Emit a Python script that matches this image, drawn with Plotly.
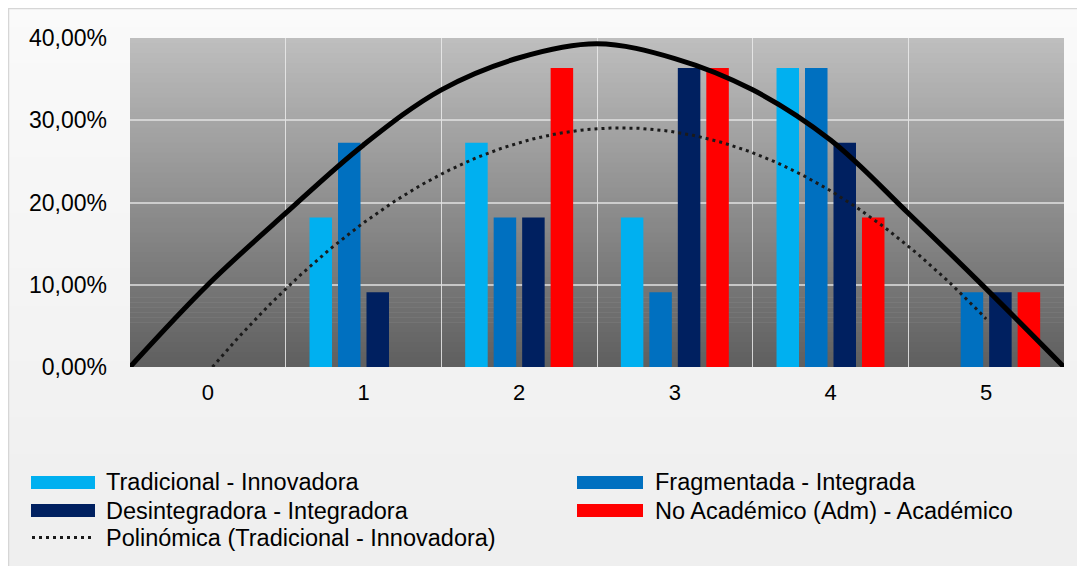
import numpy as np
import plotly.graph_objects as go

# ---------------- data ----------------
categories = [0, 1, 2, 3, 4, 5]
category_labels = ["0", "1", "2", "3", "4", "5"]

series_names = [
    "Tradicional - Innovadora",
    "Fragmentada - Integrada",
    "Desintegradora - Integradora",
    "No Académico (Adm) - Académico",
]
tradicional = [0.0, 0.1818, 0.2727, 0.1818, 0.3636, 0.0]
fragmentada = [0.0, 0.2727, 0.1818, 0.0909, 0.3636, 0.0909]
desintegradora = [0.0, 0.0909, 0.1818, 0.3636, 0.2727, 0.0909]
no_academico = [0.0, 0.0, 0.3636, 0.3636, 0.1818, 0.0909]
series_values = [tradicional, fragmentada, desintegradora, no_academico]
series_colors = ["#00B0F0", "#0070C0", "#002060", "#FF0000"]

trend_name = "Polinómica (Tradicional - Innovadora)"

# hand-drawn bell arc (category position, value)
arc_x = [-0.5, 0, 0.5, 1, 1.5, 2, 2.5, 3, 3.5, 4, 4.5, 5, 5.5]
arc_y = [0.0, 0.10, 0.187, 0.27, 0.337, 0.376, 0.393, 0.375, 0.337, 0.276, 0.187, 0.095, 0.0]

y_ticks = [0, 0.1, 0.2, 0.3, 0.4]

# ---------------- layout geometry (page pixels; the page body has an 8px margin) ----------------
OFF = 8
W, H = 1085 - OFF, 566 - OFF
PL, PR, PT, PB = 130, 1064, 38, 367   # plot area in page px
L, R, T, B = PL - OFF, 1085 - PR, PT - OFF, 566 - PB
PW = PR - PL
PH = PB - PT
FONT = "Liberation Sans, Arial, sans-serif"
TXT = "#000000"


def px2x(px):
    return (px - PL) / PW


def py2y(py):
    return (PB - py) / PH


fig = go.Figure()

for name, vals, col in zip(series_names, series_values, series_colors):
    fig.add_trace(go.Bar(x=categories, y=vals, name=name, marker_color=col,
                         marker_line_width=0, showlegend=False))

# polynomial (order 2) trendline of the first series
coef = np.polyfit(categories, tradicional, 2)
tx = np.linspace(categories[0], categories[-1], 200)
fig.add_trace(go.Scatter(x=tx, y=np.polyval(coef, tx), mode="lines", name=trend_name,
                         line=dict(color="#1a1a1a", width=3, dash="3px,4px"),
                         showlegend=False))

fig.add_trace(go.Scatter(x=arc_x, y=arc_y, mode="lines",
                         line=dict(color="black", width=5, shape="spline", smoothing=1.0),
                         showlegend=False, hoverinfo="skip"))

shapes = []
# outer panel soft gradient
nb = 30
top_c, bot_c = np.array([250, 250, 250]), np.array([239, 239, 239])
y_top, y_bot = OFF, 566
for i in range(nb):
    a = i / (nb - 1)
    c = (top_c * (1 - a) + bot_c * a).astype(int)
    p0 = y_top + (y_bot - y_top) * i / nb
    p1 = min(y_top + (y_bot - y_top) * (i + 1) / nb + 1, 566)
    shapes.append(dict(type="rect", xref="paper", yref="paper", layer="below",
                       x0=px2x(OFF), x1=px2x(1086), y0=py2y(p1), y1=py2y(p0),
                       fillcolor=f"rgb({c[0]},{c[1]},{c[2]})", line_width=0))
shapes.append(dict(type="rect", xref="paper", yref="paper", layer="below",
                   x0=px2x(OFF + 0.5), x1=px2x(1092), y0=py2y(572), y1=py2y(OFF + 0.5),
                   fillcolor="rgba(0,0,0,0)", line=dict(color="#d6d6d6", width=1.5)))

# plot area vertical gradient
nb = 66
top_c, bot_c = np.array([190, 190, 190]), np.array([96, 96, 96])
for i in range(nb):
    a = i / (nb - 1)
    c = (top_c * (1 - a) + bot_c * a).astype(int)
    shapes.append(dict(type="rect", xref="x domain", yref="y domain", layer="below",
                       x0=0, x1=1, y0=max(1 - (i + 1) / nb - 0.002, 0), y1=1 - i / nb,
                       fillcolor=f"rgb({c[0]},{c[1]},{c[2]})", line_width=0))

# custom legend
annotations = []
rows = [482.5, 510.5, 537.5]
legend_pos = [(0, 0), (1, 0), (0, 1), (1, 1)]
col_rect = [(31, 95, 104), (577, 643, 653)]
for (cidx, ridx), name, col in zip(legend_pos, series_names, series_colors):
    rx0, rx1, tx0 = col_rect[cidx]
    yc = rows[ridx]
    shapes.append(dict(type="rect", xref="paper", yref="paper",
                       x0=px2x(rx0), x1=px2x(rx1), y0=py2y(yc + 6.5), y1=py2y(yc - 6.5),
                       fillcolor=col, line_width=0))
    annotations.append(dict(x=px2x(tx0), y=py2y(yc), xref="paper", yref="paper", text=name,
                            showarrow=False, xanchor="left", yanchor="middle",
                            font=dict(family=FONT, size=23.5, color=TXT)))
shapes.append(dict(type="line", xref="paper", yref="paper",
                   x0=px2x(32), x1=px2x(92), y0=py2y(rows[2]), y1=py2y(rows[2]),
                   line=dict(color="#1a1a1a", width=3, dash="3px,4px")))
annotations.append(dict(x=px2x(104), y=py2y(rows[2]), xref="paper", yref="paper", text=trend_name,
                        showarrow=False, xanchor="left", yanchor="middle",
                        font=dict(family=FONT, size=23.5, color=TXT)))

fig.update_layout(
    width=W, height=H,
    margin=dict(l=L, r=R, t=T, b=B, pad=0),
    paper_bgcolor="#f3f3f3",
    plot_bgcolor="#888888",
    barmode="group", bargap=0.268, bargroupgap=0.21,
    separators=",.",
    showlegend=False,
    shapes=shapes,
    annotations=annotations,
    font=dict(family=FONT, size=22, color=TXT),
)
fig.update_xaxes(range=[-0.5, 5.5], tickvals=categories, ticktext=category_labels,
                 showgrid=False, zeroline=False, showline=False, ticks="",
                 ticklabelstandoff=10,
                 tickfont=dict(family=FONT, size=22, color=TXT),
                 minor=dict(tickvals=[0.5, 1.5, 2.5, 3.5, 4.5], showgrid=True,
                            gridcolor="rgba(235,235,235,0.85)", gridwidth=1.2, ticks=""))
fig.update_yaxes(range=[0, 0.4], tickvals=y_ticks, tickformat=".2%",
                 showgrid=True, gridcolor="rgba(225,225,225,0.75)", gridwidth=2,
                 zeroline=False, showline=False, ticks="", ticklabelstandoff=22,
                 tickfont=dict(family=FONT, size=23, color=TXT))

fig.write_html("out.html")
